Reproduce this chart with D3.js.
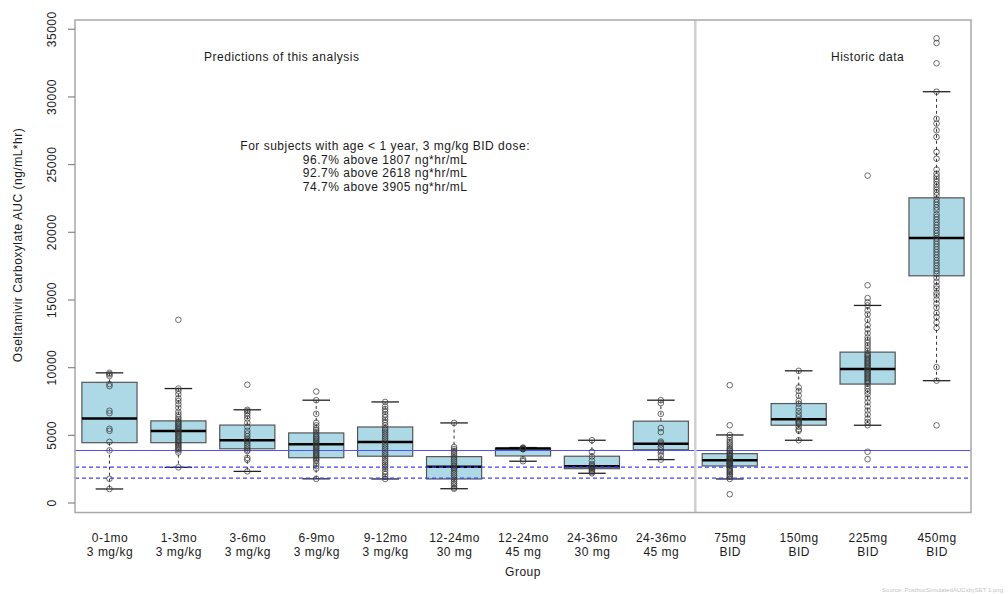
<!DOCTYPE html>
<html>
<head>
<meta charset="utf-8">
<script src="https://cdn.jsdelivr.net/npm/d3@7"></script>
<style>
  html, body { margin: 0; padding: 0; background: #fff; }
  svg text { font-family: "Liberation Sans", Arial, sans-serif; fill: #1a1a1a; letter-spacing: 0.5px; }
</style>
</head>
<body>
<svg id="chart" width="1008" height="594"></svg>
<script>
// Group labels (two lines each)
const ageLabels  = ["0-1mo", "1-3mo", "3-6mo", "6-9mo", "9-12mo", "12-24mo", "12-24mo", "24-36mo", "24-36mo", "75mg", "150mg", "225mg", "450mg"];
const doseLabels = ["3 mg/kg", "3 mg/kg", "3 mg/kg", "3 mg/kg", "3 mg/kg", "30 mg", "45 mg", "30 mg", "45 mg", "BID", "BID", "BID", "BID"];

// Box statistics per group (ng/mL*hr)
const whiskerLo = [1000, 2600, 2300, 1750, 1740, 1020, 3050, 2160, 3170, 1740, 4600, 5710, 9000];
const q1        = [4420, 4420, 3970, 3310, 3420, 1740, 3440, 2500, 3900, 2700, 5710, 8750, 16750];
const medians   = [6200, 5280, 4600, 4300, 4470, 2650, 3985, 2680, 4350, 3120, 6150, 9870, 19550];
const q3        = [8880, 6030, 5720, 5140, 5580, 3390, 4010, 3420, 6010, 3610, 7310, 11110, 22510];
const whiskerHi = [9580, 8420, 6850, 7560, 7430, 5880, 4060, 4600, 7560, 4990, 9730, 14560, 30350];

// Individual subject AUCs per group
const subjectAUC = [
  [9580, 9480, 9350, 8750, 8600, 6780, 6600, 5450, 5300, 4480, 3850, 1750, 1000],
  [13500, 8420, 8250, 8000, 7700, 7500, 7250, 7000, 6700, 6500, 6300, 6150, 6000, 5900, 5800, 5700, 5600, 5500, 5400,
   5300, 5250, 5150, 5050, 4950, 4850, 4750, 4650, 4550, 4450, 4350, 4250, 4150, 4050, 3950, 3850, 3700, 2600],
  [8700, 6850, 6750, 6600, 6400, 6200, 5900, 5600, 5300, 5100, 4900, 4700, 4600, 4500, 4350, 4200, 4050, 3900, 3800,
   3300, 3150, 2300],
  [8200, 7560, 6550, 5900, 5700, 5500, 5350, 5200, 5050, 4900, 4800, 4700, 4600, 4500, 4400, 4300, 4200, 4100, 4000,
   3900, 3800, 3700, 3600, 3500, 3400, 3300, 3200, 3100, 2900, 2700, 2500, 1750],
  [7430, 7100, 6900, 6700, 6500, 6300, 6100, 5900, 5700, 5500, 5350, 5200, 5050, 4900, 4750, 4600, 4450, 4300, 4150,
   4000, 3850, 3700, 3550, 3400, 3250, 3100, 2950, 2800, 2650, 2500, 2300, 2100, 1900, 1740],
  [5880, 4100, 3950, 3800, 3650, 3500, 3350, 3200, 3050, 2900, 2750, 2650, 2550, 2450, 2300, 2150, 2000, 1850, 1700,
   1550, 1400, 1250, 1100, 1020],
  [4060, 4020, 3990, 3960, 3930, 3200, 3050],
  [4600, 3750, 3400, 3100, 2850, 2750, 2650, 2550, 2450, 2350, 2250, 2160],
  [7560, 7350, 6550, 5500, 5200, 4500, 4400, 4300, 4100, 3850, 3700, 3450, 3170],
  [8670, 5710, 4990, 4800, 4600, 4450, 4300, 4150, 4000, 3900, 3800, 3700, 3600, 3500, 3400, 3300, 3250, 3200, 3150,
   3100, 3050, 3000, 2950, 2900, 2850, 2800, 2700, 2600, 2500, 2400, 2300, 2200, 2100, 2000, 1900, 1740, 610],
  [9730, 8500, 8250, 7900, 7500, 7300, 7000, 6750, 6500, 6300, 6100, 6000, 5900, 5800, 5600, 5400, 5300, 4600],
  [24150, 16050, 15100, 14800, 14560, 14200, 13900, 13500, 13100, 12800, 12500, 12200, 12000, 11800, 11600, 11400,
   11200, 11000, 10900, 10800, 10700, 10600, 10500, 10400, 10300, 10200, 10100, 10000, 9900, 9800, 9700, 9600, 9500,
   9400, 9300, 9200, 9100, 9000, 8900, 8800, 8600, 8400, 8200, 8000, 7700, 7400, 7100, 6800, 6500, 6200, 5950, 5710,
   3750, 3200],
  [34300, 33950, 32450, 30350, 28350, 28000, 27500, 27000, 25900, 25400, 24600, 24300, 24100, 23900, 23700, 23500,
   23300, 23100, 22900, 22700, 22400, 22200, 22000, 21800, 21600, 21300, 21100, 20900, 20700, 20500, 20300, 20100,
   19900, 19700, 19500, 19300, 19100, 18900, 18700, 18500, 18300, 18100, 17900, 17700, 17500, 17300, 17100, 16900,
   16600, 16300, 16000, 15800, 15500, 15300, 15000, 14700, 14400, 14000, 13700, 13300, 12900, 10000, 9000, 5700]
];

// Target exposure thresholds and fraction of infants above each
const thresholds = [1807, 2618, 3905];
const pctAbove   = ["96.7%", "92.7%", "74.7%"];
const yTicks     = [0, 5000, 10000, 15000, 20000, 25000, 30000, 35000];

const svg = d3.select("#chart");
const plot = { left: 75, right: 971, top: 20, bottom: 512.5 };
const FONT = "12px";

const x = d3.scaleLinear().domain([0.5, ageLabels.length + 0.5]).range([plot.left, plot.right]);

// y range padded by 4% around the data extent
const allVals = subjectAUC.flat();
const lo = d3.min(allVals), hi = d3.max(allVals);
const pad = (hi - lo) * 0.04;
const y = d3.scaleLinear().domain([lo - pad, hi + pad]).range([plot.bottom, plot.top]);

const boxW = x(1.4) - x(1);     // half of 0.8 box width
const stapleW = x(1.2) - x(1);  // half of staple width

const groups = ageLabels.map((a, i) => ({
  i, pos: i + 1,
  lo: whiskerLo[i], q1: q1[i], med: medians[i], q3: q3[i], hi: whiskerHi[i],
  pts: subjectAUC[i]
}));

// Whiskers (dashed) and staples
const g = svg.append("g");
g.selectAll(".whisk").data(groups).join("g").each(function (d) {
  const s = d3.select(this);
  const cx = x(d.pos);
  s.append("line").attr("x1", cx).attr("x2", cx).attr("y1", y(d.q3)).attr("y2", y(d.hi))
    .attr("stroke", "#333").attr("stroke-width", 1).attr("stroke-dasharray", "3,3");
  s.append("line").attr("x1", cx).attr("x2", cx).attr("y1", y(d.q1)).attr("y2", y(d.lo))
    .attr("stroke", "#333").attr("stroke-width", 1).attr("stroke-dasharray", "3,3");
  s.append("line").attr("x1", cx - stapleW).attr("x2", cx + stapleW).attr("y1", y(d.hi)).attr("y2", y(d.hi))
    .attr("stroke", "#222").attr("stroke-width", 1.3);
  s.append("line").attr("x1", cx - stapleW).attr("x2", cx + stapleW).attr("y1", y(d.lo)).attr("y2", y(d.lo))
    .attr("stroke", "#222").attr("stroke-width", 1.3);
});

// Boxes
g.selectAll(".box").data(groups).join("rect")
  .attr("x", d => x(d.pos) - boxW)
  .attr("width", boxW * 2)
  .attr("y", d => y(d.q3))
  .attr("height", d => y(d.q1) - y(d.q3))
  .attr("fill", "#add8e6")
  .attr("stroke", "#555")
  .attr("stroke-width", 1.2);

// Medians
g.selectAll(".med").data(groups).join("line")
  .attr("x1", d => x(d.pos) - boxW).attr("x2", d => x(d.pos) + boxW)
  .attr("y1", d => y(d.med)).attr("y2", d => y(d.med))
  .attr("stroke", "#000").attr("stroke-width", 2.5);

// Threshold reference lines (lowest two dashed, target solid)
thresholds.forEach((t, k) => {
  const solid = k === thresholds.length - 1;
  const yy = solid ? Math.round(y(t)) + 0.5 : y(t);
  svg.append("line")
    .attr("x1", plot.left).attr("x2", plot.right)
    .attr("y1", yy).attr("y2", yy)
    .attr("stroke", solid ? "#5050ff" : "#4040ff").attr("stroke-width", solid ? 1 : 1.2)
    .attr("stroke-dasharray", solid ? null : "4,3");
});

// Separator between predictions and historic data
svg.append("line")
  .attr("x1", x(9.5)).attr("x2", x(9.5))
  .attr("y1", plot.top).attr("y2", plot.bottom)
  .attr("stroke", "#d0d0d0").attr("stroke-width", 2.5);

// Subject points
groups.forEach(d => {
  svg.append("g").selectAll("circle").data(d.pts).join("circle")
    .attr("cx", x(d.pos))
    .attr("cy", v => y(v))
    .attr("r", 2.8)
    .attr("fill", "none")
    .attr("stroke", "#333")
    .attr("stroke-opacity", 0.8)
    .attr("stroke-width", 0.9);
});

// Plot frame
svg.append("rect")
  .attr("x", plot.left).attr("y", plot.top)
  .attr("width", plot.right - plot.left).attr("height", plot.bottom - plot.top)
  .attr("fill", "none").attr("stroke", "#a8a8a8").attr("stroke-width", 1.5);

// Y axis
const yAxis = svg.append("g").attr("transform", `translate(${plot.left},0)`)
  .call(d3.axisLeft(y).tickValues(yTicks).tickSize(7).tickFormat(d3.format("d")));
yAxis.select(".domain").remove();
yAxis.selectAll(".tick line").attr("stroke", "#888").attr("stroke-width", 1.2);
yAxis.selectAll(".tick text")
  .attr("transform", "rotate(-90)")
  .attr("x", 0).attr("y", -19)
  .attr("dy", 0)
  .attr("text-anchor", "middle")
  .style("font-size", FONT)
  .style("font-family", "'Liberation Sans', Arial, sans-serif")
  .attr("fill", "#1a1a1a");

// X axis labels (no tick marks)
const xAxis = svg.append("g").attr("transform", `translate(0,${plot.bottom})`)
  .call(d3.axisBottom(x).tickValues(d3.range(1, ageLabels.length + 1)).tickSize(0).tickFormat(() => ""));
xAxis.select(".domain").remove();
xAxis.selectAll(".tick text").each(function (v) {
  const t = d3.select(this).text(null)
    .attr("y", 0).attr("dy", 0)
    .style("font-size", FONT)
    .style("font-family", "'Liberation Sans', Arial, sans-serif")
    .attr("fill", "#1a1a1a");
  t.append("tspan").attr("x", 0).attr("y", 29).text(ageLabels[v - 1]);
  t.append("tspan").attr("x", 0).attr("y", 43.5).text(doseLabels[v - 1]);
});

// Axis titles
svg.append("text")
  .attr("x", (plot.left + plot.right) / 2).attr("y", 576)
  .attr("text-anchor", "middle").style("font-size", FONT)
  .text("Group");
svg.append("text")
  .attr("transform", `translate(22,${245}) rotate(-90)`)
  .attr("text-anchor", "middle").style("font-size", FONT)
  .text("Oseltamivir Carboxylate AUC (ng/mL*hr)");

// Panel annotations
svg.append("text").attr("x", x(3.5)).attr("y", 61).attr("text-anchor", "middle")
  .style("font-size", FONT).text("Predictions of this analysis");
svg.append("text").attr("x", x(12)).attr("y", 61).attr("text-anchor", "middle")
  .style("font-size", FONT).text("Historic data");

const note = svg.append("text").attr("text-anchor", "middle").style("font-size", FONT);
note.append("tspan").attr("x", x(5)).attr("y", 149.5).text("For subjects with age < 1 year, 3 mg/kg BID dose:");
thresholds.forEach((t, k) => {
  note.append("tspan").attr("x", x(5)).attr("y", 163.5 + k * 13.5)
    .text(`${pctAbove[k]} above ${t} ng*hr/mL`);
});

// Source footnote
svg.append("text").attr("x", 1003).attr("y", 592).attr("text-anchor", "end")
  .style("font-size", "6px").style("fill", "#c4c4c4").style("letter-spacing", "0px")
  .text("Source: PosthocSimulatedAUCsbySET 1.png");
</script>
</body>
</html>
